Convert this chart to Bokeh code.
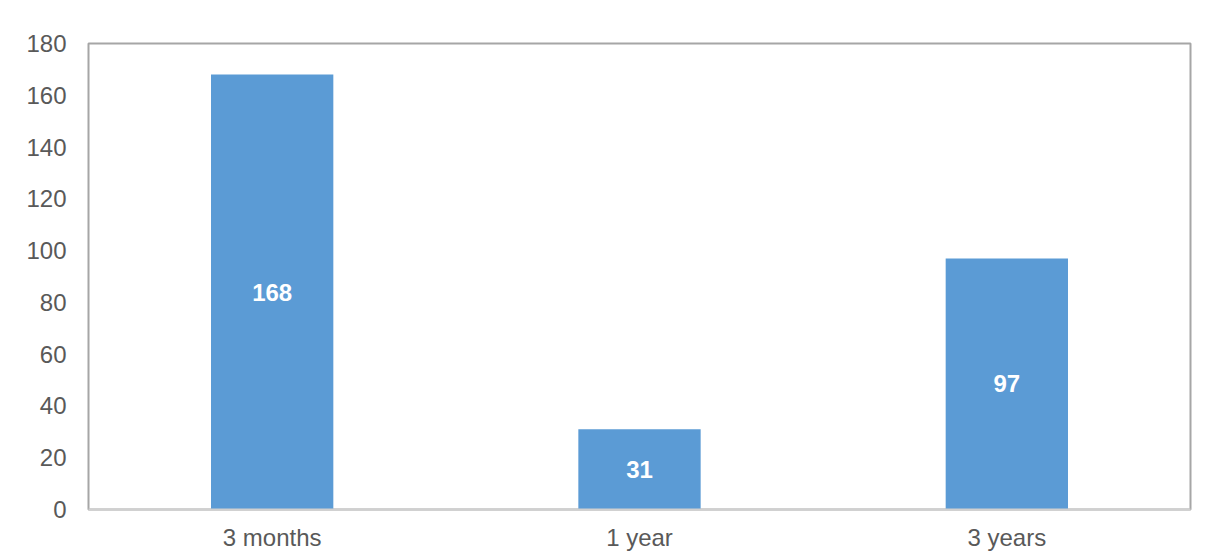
from bokeh.plotting import figure
from bokeh.models import ColumnDataSource, Range1d, FixedTicker, LabelSet
from bokeh.core.properties import value
from bokeh.embed import file_html
from bokeh.resources import INLINE

categories = ["3 months", "1 year", "3 years"]
values = [168, 31, 97]
y_ticks = [0, 20, 40, 60, 80, 100, 120, 140, 160, 180]

src = ColumnDataSource(dict(
    cat=categories,
    val=values,
    mid=[v / 2 for v in values],
    lab=[str(v) for v in values],
))

p = figure(x_range=categories, width=1200, height=555,
           output_backend="svg", toolbar_location=None,
           min_border_left=88, min_border_right=10,
           min_border_top=43, min_border_bottom=46)
p.y_range = Range1d(0, 180)
p.x_range.range_padding = 0

p.vbar(x="cat", top="val", width=0.333, source=src,
       fill_color="#5B9BD5", line_color=None)

labels = LabelSet(x="cat", y="mid", text="lab", source=src,
                  text_color="white", text_font_style="bold",
                  text_font_size="24px", text_font=value("Liberation Sans"),
                  text_align="center", text_baseline="middle")
p.add_layout(labels)

p.grid.grid_line_color = None
p.outline_line_color = "#a6a6a6"
p.outline_line_width = 2
p.background_fill_color = "white"
p.border_fill_color = "white"

p.yaxis.ticker = FixedTicker(ticks=y_ticks)
p.yaxis.axis_line_color = None
p.yaxis.major_tick_line_color = None
p.yaxis.minor_tick_line_color = None
p.yaxis.major_label_standoff = 16
p.yaxis.major_label_text_font = "Liberation Sans"
p.yaxis.major_label_text_font_size = "24px"
p.yaxis.major_label_text_color = "#595959"

p.xaxis.axis_line_color = "#d0d0d0"
p.xaxis.axis_line_width = 2
p.xaxis.major_tick_line_color = None
p.xaxis.minor_tick_line_color = None
p.xaxis.major_tick_out = 0
p.xaxis.major_label_standoff = 14
p.xaxis.major_label_text_font = "Liberation Sans"
p.xaxis.major_label_text_font_size = "24px"
p.xaxis.major_label_text_color = "#595959"

open("out.html", "w").write(file_html(p, INLINE))
